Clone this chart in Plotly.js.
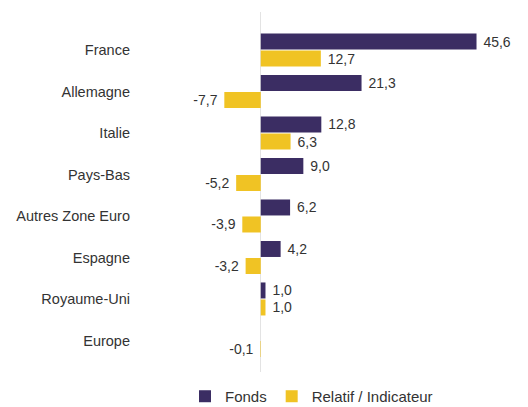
<!DOCTYPE html>
<html><head><meta charset="utf-8">
<script src="https://cdn.plot.ly/plotly-3.0.1.min.js"></script>
<style>html,body{margin:0;padding:0;background:#fff}</style>
</head><body><div id="chart" style="width:528px;height:407px"></div>
<script>
var categories = ["France","Allemagne","Italie","Pays-Bas","Autres Zone Euro","Espagne","Royaume-Uni","Europe"];
var fonds = [45.6, 21.3, 12.8, 9.0, 6.2, 4.2, 1.0, null];
var relatif = [12.7, -7.7, 6.3, -5.2, -3.9, -3.2, 1.0, -0.1];
var seriesNames = ["Fonds", "Relatif / Indicateur"];

function templates(vals) {
  return vals.map(function (v) {
    if (v === null) return "";
    return v < 0 ? "%{x:.1f}\u00a0" : "\u00a0%{x:.1f}";
  });
}

var font = {family: "Liberation Sans, Arial, sans-serif", size: 14, color: "#333"};
var data = [
  {type: "bar", orientation: "h", name: seriesNames[0], y: categories, x: fonds,
   marker: {color: "#3b2d63"}, texttemplate: templates(fonds), textposition: "outside",
   textfont: font, cliponaxis: false, hoverinfo: "none"},
  {type: "bar", orientation: "h", name: seriesNames[1], y: categories, x: relatif,
   marker: {color: "#f0c324"}, texttemplate: templates(relatif), textposition: "outside",
   textfont: font, cliponaxis: false, hoverinfo: "none"}
];
var layout = {
  width: 528, height: 407,
  margin: {l: 133, r: 7, t: 12, b: 35, autoexpand: false},
  paper_bgcolor: "#fff", plot_bgcolor: "#fff",
  separators: ", ",
  font: font,
  barmode: "group", bargap: 0.18, bargroupgap: 0.06,
  showlegend: true,
  legend: {orientation: "h", x: 0.46, xanchor: "center", xref: "paper", y: -0.068, yanchor: "middle", font: {family: font.family, size: 15, color: "#333"}, traceorder: "normal"},
  xaxis: {range: [-27, 55], showgrid: false, showticklabels: false, ticks: "", zeroline: true, zerolinecolor: "#e3e3e3", zerolinewidth: 1, fixedrange: true},
  yaxis: {type: "category", range: [7.76, -0.916], showgrid: false, ticks: "", ticklabelstandoff: 2, tickfont: {family: font.family, size: 14.5, color: "#333"}, showline: false, fixedrange: true}
};
Plotly.newPlot("chart", data, layout, {displayModeBar: false, staticPlot: true});
</script></body></html>
